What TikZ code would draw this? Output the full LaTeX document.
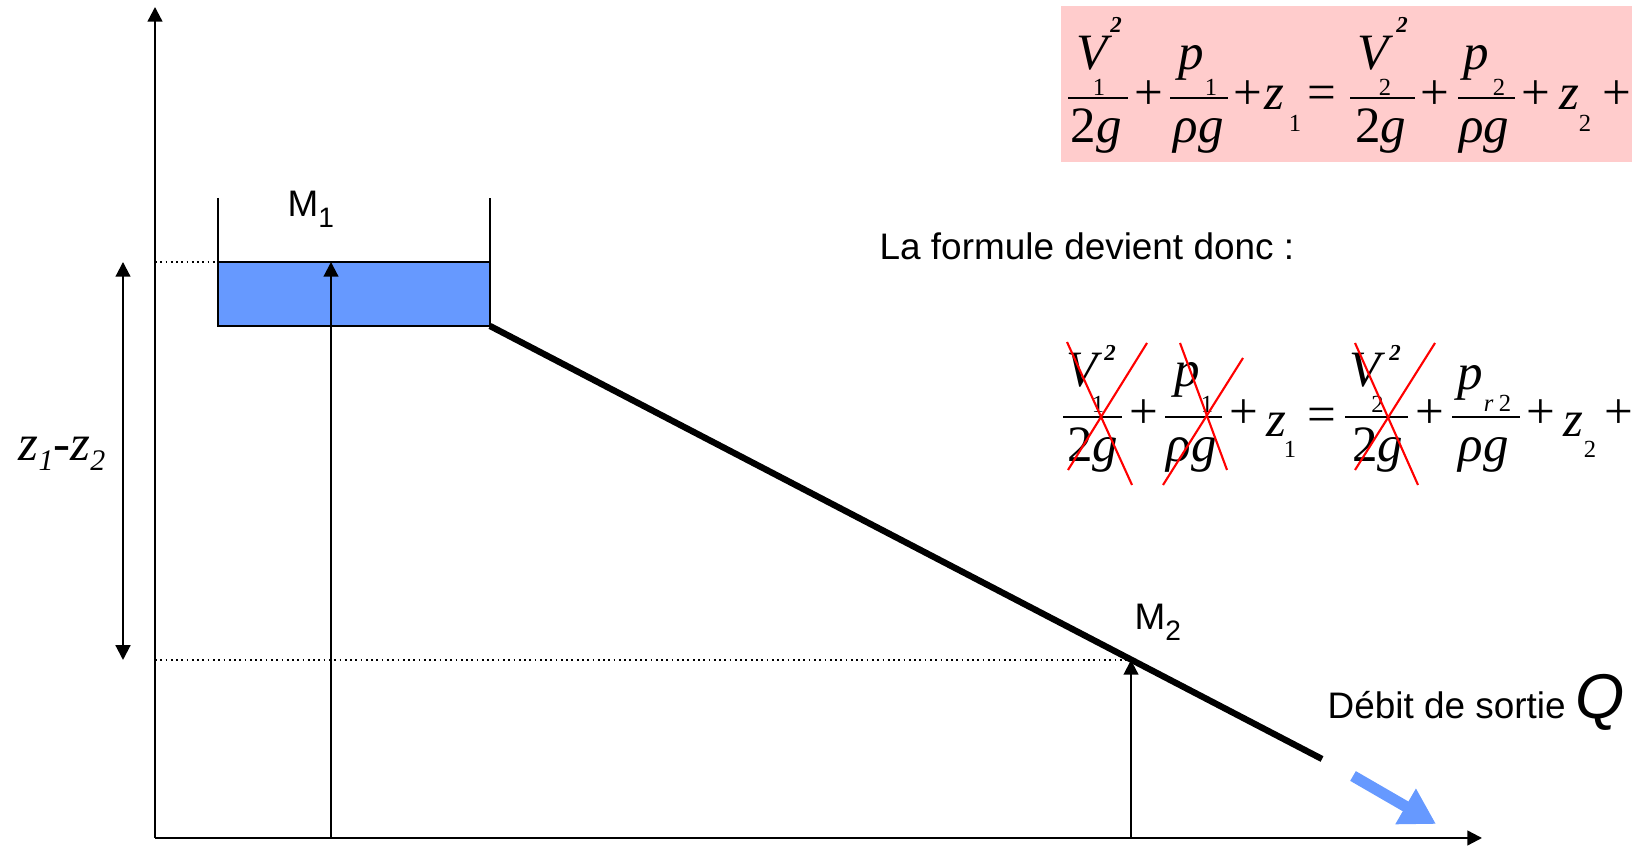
\documentclass[tikz,border=0pt]{standalone}
\usepackage{fontspec}
\setmainfont{Liberation Sans}
\newfontfamily\eqfont{Liberation Serif}
\usetikzlibrary{arrows.meta}
\definecolor{HyWater}{HTML}{6699FF}
\definecolor{HyPink}{HTML}{FFCCCC}
\definecolor{HyCross}{HTML}{FF0000}
\newcommand{\eqbig}{\eqfont\fontsize{14.5}{16}\selectfont}
\newcommand{\eqsml}{\eqfont\fontsize{7}{8}\selectfont}
\newcommand{\eqsup}{\eqfont\fontsize{6.5}{7}\selectfont\bfseries\itshape}
\newcommand{\lowsub}[1]{\raisebox{-0.11cm}{\fontsize{8}{9}\selectfont #1}}

\begin{document}
\begin{tikzpicture}[x=1cm,y=1cm,inner sep=0pt,
  font=\fontsize{10.5}{12}\selectfont,
  axis/.style={line width=0.65pt,-{Triangle[length=4.2pt,width=4.2pt]}},
  riser/.style={line width=0.6pt,-{Triangle[length=4.2pt,width=4.2pt]}},
  span/.style={line width=0.6pt,{Triangle[length=4.2pt,width=4.2pt]}-{Triangle[length=4.2pt,width=4.2pt]}},
  guide/.style={line width=0.5pt,dash pattern=on 0.5pt off 1pt},
  wall/.style={line width=0.8pt},
  glyph/.style={anchor=base},
  eqbar/.style={line width=0.6pt},
  cross/.style={HyCross,line width=0.6pt}]
\path[use as bounding box] (0,0) rectangle (16.32,8.47);
\fill[HyPink] (10.61,6.85) rectangle (16.32,8.41);
\foreach \px/\py/\tx [count=\i] in {10.92/7.77/{\itshape V},10.96/7.04/{2\itshape g},
    11.915/7.77/{\itshape p},11.985/7.04/{\itshape ρg},12.74/7.37/{\itshape z},
    13.73/7.77/{\itshape V},13.805/7.04/{2\itshape g},14.765/7.77/{\itshape p},
    14.84/7.04/{\itshape ρg},15.69/7.37/{\itshape z},
    11.49/7.37/+,12.475/7.37/+,13.215/7.37/=,14.35/7.37/+,15.36/7.37/+,16.165/7.37/+}
  \node[glyph] (fa\i) at (\px,\py) {\eqbig \tx};
\foreach \px/\py/\tx [count=\i] in {10.99/7.515/1,12.11/7.515/1,12.95/7.15/1,
    13.85/7.515/2,14.99/7.515/2,15.85/7.15/2}
  \node[glyph] (fas\i) at (\px,\py) {\eqsml \tx};
\node[glyph] (fae1) at (11.16,8.14) {\eqsup 2};
\node[glyph] (fae2) at (14.02,8.14) {\eqsup 2};
\draw[eqbar] (10.68,7.49) -- (11.28,7.49);
\draw[eqbar] (11.70,7.49) -- (12.28,7.49);
\draw[eqbar] (13.50,7.49) -- (14.15,7.49);
\draw[eqbar] (14.58,7.49) -- (15.15,7.49);
\foreach \px/\py/\tx [count=\i] in {10.825/4.60/{\itshape V},10.925/3.85/{2\itshape g},
    11.875/4.60/{\itshape p},11.915/3.85/{\itshape ρg},12.765/4.10/{\itshape z},
    13.655/4.60/{\itshape V},13.775/3.85/{2\itshape g},14.70/4.57/{\itshape p},
    14.835/3.85/{\itshape ρg},15.735/4.10/{\itshape z},
    11.435/4.18/+,12.435/4.18/+,13.215/4.15/=,14.30/4.18/+,15.41/4.18/+,16.19/4.18/+}
  \node[glyph] (fb\i) at (\px,\py) {\eqbig \tx};
\foreach \px/\py/\tx [count=\i] in {10.98/4.34/1,12.07/4.34/1,12.90/3.89/1,
    13.775/4.34/2,14.975/4.35/{{\itshape r}\hspace{1.5pt}2},15.90/3.89/2}
  \node[glyph] (fbs\i) at (\px,\py) {\eqsml \tx};
\node[glyph] (fbe1) at (11.10,4.86) {\eqsup 2};
\node[glyph] (fbe2) at (13.95,4.86) {\eqsup 2};
\draw[eqbar] (10.63,4.30) -- (11.22,4.30);
\draw[eqbar] (11.65,4.30) -- (12.22,4.30);
\draw[eqbar] (13.45,4.30) -- (14.08,4.30);
\draw[eqbar] (14.52,4.30) -- (15.20,4.30);
\draw[cross] (10.67,5.05) -- (11.32,3.62);
\draw[cross] (10.68,3.77) -- (11.47,5.04);
\draw[cross] (11.80,5.04) -- (12.27,3.77);
\draw[cross] (11.63,3.62) -- (12.43,4.89);
\draw[cross] (13.55,5.04) -- (14.18,3.62);
\draw[cross] (13.55,3.77) -- (14.35,5.04);
\node[anchor=base west] (fmtxt) at (8.79,5.87) {La formule devient donc :};
\coordinate (O) at (1.55,0.09);
\coordinate (ytop) at (1.55,8.40);
\coordinate (xend) at (14.82,0.09);
\coordinate (tankS) at (2.18,5.85);
\coordinate (tankR) at (4.90,5.21);
\coordinate (pipeEnd) at (13.22,0.88);
\coordinate (m1) at (3.31,5.85);
\coordinate (m2) at (11.31,1.87);
\coordinate (zt) at (1.23,5.85);
\coordinate (zb) at (1.23,1.87);
\fill[HyWater] (2.18,5.21) rectangle (4.90,5.85);
\draw[wall] (2.18,6.49) -- (2.18,5.21) -- (tankR) -- (4.90,6.49);
\draw[wall] (tankS) -- (4.90,5.85);
\draw[line width=1.8pt] (tankR) -- (pipeEnd);
\draw[axis] (O) -- (ytop);
\draw[axis] (O) -- (xend);
\draw[guide] (m1 -| O) -- (tankS);
\draw[guide] (m2 -| O) -- (m2);
\draw[riser] (m1 |- O) -- (m1);
\draw[riser] (m2 |- O) -- (m2);
\draw[span] (zt) -- (zb);
\node[anchor=base west] (m1lbl) at (2.87,6.30) {M\lowsub{1}};
\node[anchor=base west] (m2lbl) at (11.34,2.17) {M\lowsub{2}};
\node (zlbl) at (0.62,3.93) {\eqbig\itshape z\raisebox{-0.1cm}{\fontsize{8.5}{9}\selectfont 1}-z\raisebox{-0.1cm}{\fontsize{8.5}{9}\selectfont 2}};
\node[anchor=base west] (qout) at (13.27,1.28) {Débit de sortie {\fontsize{18}{20}\selectfont\itshape Q}};
\draw[HyWater,line width=3.2pt,-{Triangle[length=10pt,width=11pt]}] (13.53,0.71) -- (14.36,0.23);
\end{tikzpicture}
\end{document}
